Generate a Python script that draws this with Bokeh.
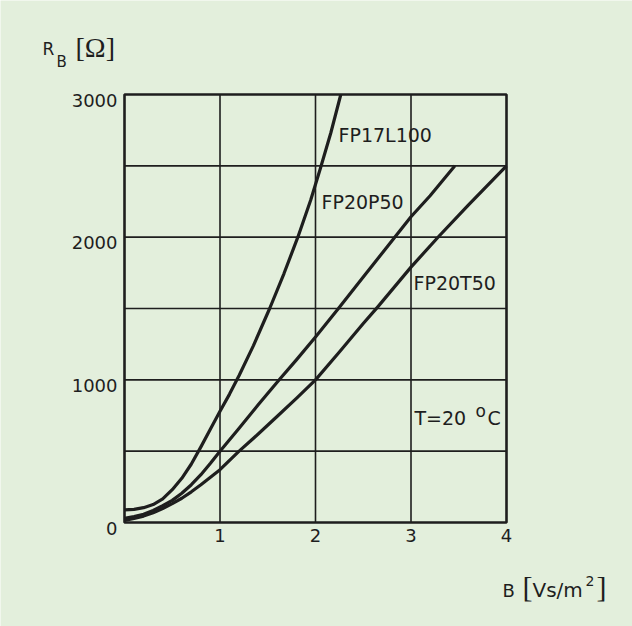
from bokeh.plotting import figure
from bokeh.models import Range1d, Label
from bokeh.core.properties import value
from bokeh.embed import file_html
from bokeh.resources import INLINE

# ---- data ----
b_fp17l100 = [0.0, 0.1, 0.2, 0.3, 0.4, 0.5, 0.6, 0.7, 0.8, 0.9, 1.0, 1.1, 1.2, 1.35, 1.52, 1.67, 1.815, 1.95, 2.05, 2.16, 2.265]
r_fp17l100 = [88, 92, 104, 126, 165, 230, 310, 410, 530, 655, 780, 900, 1030, 1240, 1500, 1745, 2000, 2260, 2480, 2730, 3000]

b_fp20p50 = [0.0, 0.1, 0.2, 0.3, 0.4, 0.5, 0.6, 0.7, 0.8, 0.9, 1.0, 1.2, 1.4, 1.62, 1.8, 2.0, 2.24, 2.5, 2.83, 3.0, 3.2, 3.46]
r_fp20p50 = [30, 42, 58, 85, 118, 155, 205, 265, 335, 415, 500, 660, 825, 1000, 1140, 1300, 1500, 1720, 2000, 2143, 2290, 2500]

b_fp20t50 = [0.0, 0.1, 0.2, 0.3, 0.4, 0.5, 0.6, 0.7, 0.8, 1.0, 1.2, 1.4, 1.6, 1.8, 2.0, 2.25, 2.5, 2.65, 3.0, 3.29, 3.6, 4.0]
r_fp20t50 = [14, 28, 45, 68, 98, 132, 170, 215, 265, 370, 500, 620, 745, 870, 1000, 1195, 1395, 1510, 1790, 2005, 2225, 2500]

x_min, x_max = 0, 4
y_min, y_max = 0, 3000
x_ticks = [1, 2, 3, 4]
x_tick_labels = ["1", "2", "3", "4"]
y_ticks = [0, 1000, 2000, 3000]
y_tick_labels = ["0", "1000", "2000", "3000"]
x_grid = [1, 2, 3]
y_grid = [500, 1000, 1500, 2000, 2500]

BG = "#e3efdc"
INK = "#1e1e1e"
SANS = "DejaVu Sans"
SERIF = "Liberation Serif"

# pixel geometry of the chart box inside the 632x626 canvas
W, H = 632, 626
FL, FR, FT, FB = 124, 506, 94, 522
PX = (FR - FL) / (x_max - x_min)      # pixels per unit B
PY = (FB - FT) / (y_max - y_min)      # pixels per ohm
SHIFT = 0.38                          # renderer baseline correction (fraction of font size)

p = figure(width=W, height=H, output_backend="svg", toolbar_location=None,
           x_axis_location=None, y_axis_location=None,
           x_range=Range1d(x_min - FL / PX, x_max + (W - FR) / PX),
           y_range=Range1d(y_min - (H - FB) / PY, y_max + FT / PY),
           min_border=0)
p.background_fill_color = BG
p.border_fill_color = BG
p.outline_line_color = None
p.grid.visible = False


def dx(px):
    return x_min + (px - FL) / PX


def dy(py):
    return y_min + (FB - py) / PY


# grid
p.segment(x0=x_grid, y0=[y_min] * len(x_grid), x1=x_grid, y1=[y_max] * len(x_grid),
          line_color=INK, line_width=1.6)
p.segment(x0=[x_min] * len(y_grid), y0=y_grid, x1=[x_max] * len(y_grid), y1=y_grid,
          line_color=INK, line_width=1.6)

# curves
for bs, rs in ((b_fp17l100, r_fp17l100), (b_fp20p50, r_fp20p50), (b_fp20t50, r_fp20t50)):
    p.line(bs, rs, line_color=INK, line_width=3.2, line_join="round")

# frame
p.quad(left=[x_min], right=[x_max], bottom=[y_min], top=[y_max],
       fill_color=None, line_color=INK, line_width=2.6)

# tick labels
p.text(x=x_ticks, y=[dy(FB + 20 - SHIFT * 18)] * len(x_ticks), text=x_tick_labels,
       text_font=value(SANS), text_font_size="18px", text_color=INK,
       text_align="center", text_baseline="alphabetic")
p.text(x=[dx(FL - 7)] * len(y_ticks), y=[t - (12.5 - SHIFT * 18) / PY for t in y_ticks],
       text=y_tick_labels,
       text_font=value(SANS), text_font_size="18px", text_color=INK,
       text_align="right", text_baseline="alphabetic")


def lab(text, px, py, size, font=SANS):
    p.add_layout(Label(x=dx(px), y=dy(py - SHIFT * size), text=text, text_font=font,
                       text_font_size=f"{size}px", text_color=INK,
                       text_align="left", text_baseline="alphabetic"))


# curve labels
lab("FP17L100", 338, 142, 19)
lab("FP20P50", 321, 209, 19)
lab("FP20T50", 413, 290, 19)
lab("T=20", 414, 425, 19)
lab("o", 475, 417, 17)
lab("C", 487, 425, 19)

# y axis title  R_B [Ω]
lab("R", 42, 55, 17)
lab("B", 56, 67, 15)
lab("[Ω]", 75, 58, 28, font=SERIF)

# x axis title  B [Vs/m²]
lab("B", 502, 597, 18)
lab("[", 522, 597, 30, font=SERIF)
lab("Vs/m", 532, 597, 20)
lab("2", 585, 586, 14)
lab("]", 596, 597, 30, font=SERIF)

open("out.html", "w").write(file_html(p, INLINE))
